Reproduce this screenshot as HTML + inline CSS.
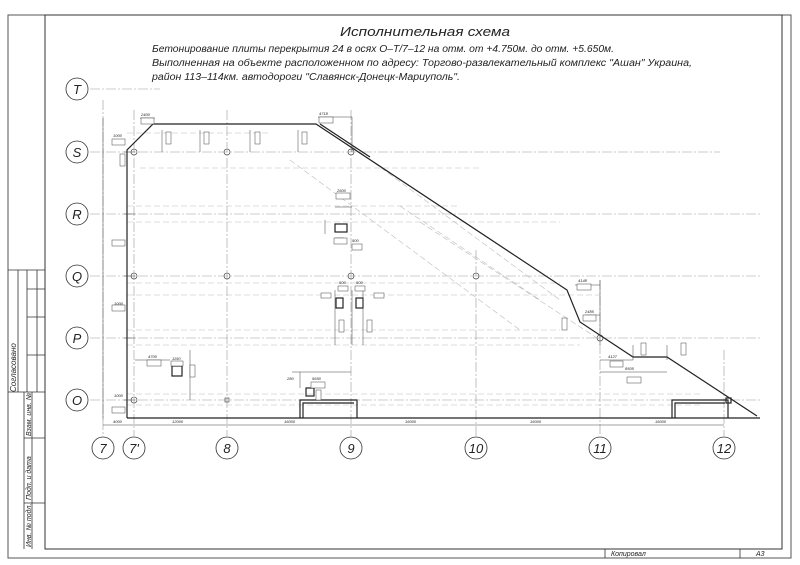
<!DOCTYPE html>
<html><head><meta charset="utf-8"><style>
html,body{margin:0;padding:0;background:#fff}
svg{display:block}
text{font-family:"Liberation Sans","DejaVu Sans",sans-serif;font-style:italic;fill:#222}
.ax{stroke:#999;stroke-width:.6;stroke-dasharray:10 2 2 2;fill:none}
.hd{stroke:#bbb;stroke-width:.6;stroke-dasharray:6 3;fill:none}
.dm{stroke:#444;stroke-width:.5;fill:none}
.b{fill:#fff;stroke:#444;stroke-width:.5}
.s{font-size:4px;font-style:normal}
</style></head><body>
<svg width="800" height="565" viewBox="0 0 800 565" xmlns="http://www.w3.org/2000/svg">
<!-- frame -->
<rect x="8" y="15" width="783" height="543" fill="none" stroke="#555" stroke-width="1"/>
<rect x="45" y="15" width="737" height="534" fill="none" stroke="#333" stroke-width="1"/>
<g stroke="#333" stroke-width="0.8" fill="none">
<path d="M8 270H45M18 270V392M27 270V392M37 270V392M27 289H45M27 317H45M27 355H45M8 392H45M24 392V549M32 392V549M24 438H45M24 503H45"/>
<path d="M605 549V558M740 549V558"/>
</g>
<text transform="translate(16,392) rotate(-90)" font-size="8">Согласовано</text>
<text transform="translate(31,436) rotate(-90)" font-size="7">Взам. инв. №</text>
<text transform="translate(31,500) rotate(-90)" font-size="7">Подп. и дата</text>
<text transform="translate(31,547) rotate(-90)" font-size="7">Инв. № подл.</text>
<text x="611" y="556" font-size="7">Копировал</text>
<text x="756" y="556" font-size="7">А3</text>
<!-- title -->
<text x="340" y="36" font-size="13" fill="#444" textLength="170" lengthAdjust="spacingAndGlyphs">Исполнительная схема</text>
<text x="152" y="52" font-size="10" fill="#333" textLength="462" lengthAdjust="spacingAndGlyphs">Бетонирование плиты перекрытия 24 в осях О–Т/7–12 на отм. от +4.750м. до отм. +5.650м.</text>
<text x="152" y="66" font-size="10" fill="#333" textLength="540" lengthAdjust="spacingAndGlyphs">Выполненная на объекте расположенном по адресу: Торгово-развлекательный комплекс "Ашан" Украина,</text>
<text x="152" y="80" font-size="10" fill="#333" textLength="308" lengthAdjust="spacingAndGlyphs">район 113–114км. автодороги "Славянск-Донецк-Мариуполь".</text>
<!-- axes -->
<g class="ax">
<path d="M90 89H160M90 152H720M90 214H760M90 276H760M90 338H760M90 400H760"/>
<path d="M103 100V436M134 110V436M227 110V436M351 110V436M476 250V436M600 280V436M724 350V436"/>
</g>
<g class="hd">
<path d="M127 133H270M140 168H480M127 206H460M127 222H560M127 283H560M127 295H600M127 330H560M127 345H580M127 394H700M127 405H700"/>
<path d="M330 130L560 300M400 206L540 300M420 222L600 340M290 160L520 330"/>
</g>
<!-- bubbles -->
<g fill="#fff" stroke="#333" stroke-width="0.8">
<circle cx="77" cy="89" r="11"/><circle cx="77" cy="152" r="11"/><circle cx="77" cy="214" r="11"/><circle cx="77" cy="276" r="11"/><circle cx="77" cy="338" r="11"/><circle cx="77" cy="400" r="11"/>
<circle cx="103" cy="448" r="11"/><circle cx="134" cy="448" r="11"/><circle cx="227" cy="448" r="11"/><circle cx="351" cy="448" r="11"/><circle cx="476" cy="448" r="11"/><circle cx="600" cy="448" r="11"/><circle cx="724" cy="448" r="11"/>
</g>
<g font-size="13" text-anchor="middle" fill="#555">
<text x="77" y="94">T</text><text x="77" y="157">S</text><text x="77" y="219">R</text><text x="77" y="281">Q</text><text x="77" y="343">P</text><text x="77" y="405">O</text>
<text x="103" y="453">7</text><text x="134" y="453">7'</text><text x="227" y="453">8</text><text x="351" y="453">9</text><text x="476" y="453">10</text><text x="600" y="453">11</text><text x="724" y="453">12</text>
</g>
<!-- columns markers -->
<g fill="none" stroke="#333" stroke-width="0.6">
<circle cx="134" cy="152" r="3"/><circle cx="227" cy="152" r="3"/><circle cx="351" cy="152" r="3"/>
<circle cx="134" cy="276" r="3"/><circle cx="227" cy="276" r="3"/><circle cx="351" cy="276" r="3"/><circle cx="476" cy="276" r="3"/>
<circle cx="134" cy="400" r="3"/><rect x="225" y="398" width="4" height="4"/><circle cx="600" cy="338" r="3"/>
</g>
<!-- plate outline -->
<g stroke="#222" stroke-width="1.2" fill="none">
<path d="M127 418V150L153 124H316L567 290L580 322L633 357H667L757 416"/>
<path d="M320 124L370 157" />
<path d="M127 418H760"/>
<path d="M300 418V400H357V418M303 418V403H354"/>
<path d="M672 418V400H728V418M675 418V403H725"/>
<rect x="726" y="398" width="5" height="5"/>
<rect x="335" y="224" width="12" height="8"/><rect x="336" y="298" width="7" height="10"/><rect x="356" y="298" width="7" height="10"/><rect x="172" y="366" width="10" height="10"/><rect x="306" y="388" width="8" height="8"/>
</g>
<!-- dimension lines -->
<g class="dm">
<path d="M103 425H724M103 118V420M124 400H135M124 338H135M124 276H135M124 214H135M124 152H135"/>
<path d="M162 130V152M200 130V152M250 130V152M298 130V152M140 118H155M318 117H352V152"/>
<path d="M135 360H170M190 350V400M335 207H352M325 220V234M352 290V345M335 290V345M363 290V345"/>
<path d="M600 280V345M575 285H600M585 315H600M600 360H633M600 372H667M633 345V360M667 345V360"/>
<path d="M292 372H351M300 372V388"/>
</g>
<g class="s" font-size="4">
<text x="141" y="116">2400</text><text x="319" y="115">4718</text><text x="113" y="137">1000</text>
<text x="114" y="245">1000</text><text x="114" y="305">1000</text><text x="114" y="397">1000</text>
<text x="148" y="358">4700</text><text x="172" y="360">1150</text>
<text x="337" y="192">2600</text><text x="335" y="240">2750</text><text x="352" y="242">500</text>
<text x="339" y="284">500</text><text x="356" y="284">500</text>
<text x="312" y="380">5650</text><text x="287" y="380">280</text>
<text x="578" y="282">4148</text><text x="585" y="313">2485</text>
<text x="608" y="358">4127</text><text x="625" y="370">8505</text>
<text x="113" y="423">4000</text><text x="172" y="423">12000</text><text x="284" y="423">16000</text><text x="405" y="423">16000</text><text x="530" y="423">16000</text><text x="655" y="423">16000</text>
</g>
<g class="b">
<rect x="141" y="118" width="13" height="6"/><rect x="319" y="117" width="14" height="6"/><rect x="112" y="139" width="13" height="6"/>
<rect x="112" y="240" width="13" height="6"/><rect x="112" y="305" width="13" height="6"/><rect x="112" y="407" width="13" height="6"/>
<rect x="147" y="360" width="14" height="6"/><rect x="171" y="361" width="12" height="5"/>
<rect x="336" y="193" width="14" height="6"/><rect x="334" y="238" width="13" height="6"/><rect x="352" y="244" width="10" height="6"/>
<rect x="338" y="286" width="10" height="5"/><rect x="355" y="286" width="10" height="5"/><rect x="321" y="293" width="10" height="5"/><rect x="374" y="293" width="10" height="5"/>
<rect x="311" y="382" width="14" height="6"/><rect x="577" y="284" width="14" height="6"/><rect x="583" y="315" width="13" height="6"/>
<rect x="610" y="361" width="13" height="6"/><rect x="627" y="377" width="14" height="6"/>
<rect x="166" y="132" width="5" height="12"/><rect x="204" y="132" width="5" height="12"/><rect x="255" y="132" width="5" height="12"/><rect x="302" y="132" width="5" height="12"/>
<rect x="120" y="154" width="5" height="12"/><rect x="190" y="365" width="5" height="12"/><rect x="339" y="320" width="5" height="12"/><rect x="367" y="320" width="5" height="12"/>
<rect x="562" y="318" width="5" height="12"/><rect x="641" y="343" width="5" height="12"/><rect x="681" y="343" width="5" height="12"/><rect x="316" y="390" width="5" height="10"/>
</g>
</svg>
</body></html>
